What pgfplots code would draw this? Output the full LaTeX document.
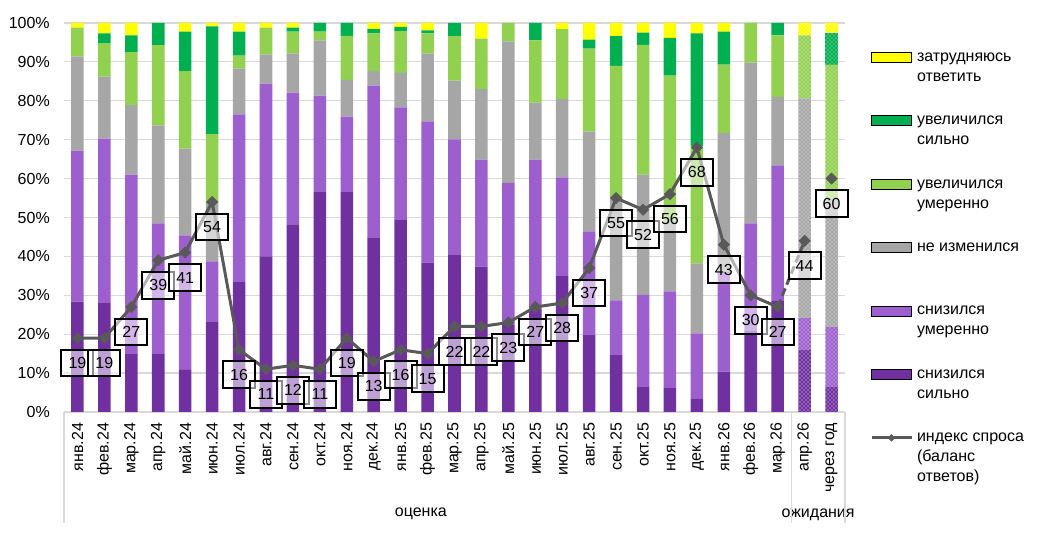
\documentclass[border=0pt]{standalone}
\usepackage{fontspec}
\setmainfont{Liberation Sans}
\usepackage{pgfplots}
\pgfplotsset{compat=1.18}
\usepackage{pgfplotstable}
\usetikzlibrary{patterns}
\definecolor{cSD}{HTML}{7030A0}
\definecolor{cSM}{HTML}{9D5FCE}
\definecolor{cNC}{HTML}{A6A6A6}
\definecolor{cIM}{HTML}{92D050}
\definecolor{cIS}{HTML}{00B050}
\definecolor{cDK}{HTML}{FFFF00}
\definecolor{cIdx}{HTML}{595959}
\definecolor{cGrid}{HTML}{D9D9D9}

\pgfplotstableread{
x sd sm nc im is dk
0 28.4 38.8 24.2 7.4 0 1.2
1 28.2 42.1 15.9 8.6 2.5 2.7
2 14.9 46.1 17.9 13.6 4.3 3.2
3 15.1 33.4 25.2 20.6 5.7 0
4 10.8 34.6 22.3 19.9 10.2 2.2
5 23.3 15.4 15.5 17.2 27.7 0.9
6 33.6 42.9 11.8 3.3 6.2 2.2
7 40.0 44.4 7.5 6.9 0 1.2
8 48.2 33.9 10.1 5.6 1.0 1.2
9 56.5 24.8 14.2 2.3 2.2 0
10 56.5 19.4 9.5 11.3 3.3 0
11 44.9 39.0 3.7 9.7 1.2 1.5
12 49.5 28.8 8.9 10.7 1.1 1.0
13 38.4 36.3 17.5 5.1 0.8 1.9
14 40.5 29.6 15.1 11.4 3.4 0
15 37.4 27.5 18.1 13.0 0 4.0
16 22.4 36.5 36.4 4.7 0 0
17 26.5 38.4 14.6 16.0 4.5 0
18 35.1 25.2 20.1 18.0 0 1.6
19 19.9 26.5 25.7 21.3 2.3 4.3
20 14.6 14.1 26.3 34.0 7.6 3.4
21 6.6 23.5 30.9 33.4 3.1 2.5
22 6.3 24.7 18.0 37.5 9.7 3.8
23 3.5 16.7 18.0 30.1 29.0 2.7
24 10.4 25.6 35.7 17.6 8.5 2.2
25 21.0 27.5 41.3 10.2 0 0
26 28.5 34.9 17.6 15.8 3.2 0
27 16.1 8.0 56.5 16.2 0 3.2
28 6.4 15.4 33.2 34.3 8.2 2.5
}\data

\newcommand{\legtext}[1]{\parbox[t][40pt][t]{125pt}{\raggedright\fontsize{12pt}{15pt}\selectfont\strut #1}}

\tikzset{
  lbl/.style={anchor=center, yshift=-18.75pt, draw=black, line width=1.5pt, fill=white, fill opacity=0.55, text opacity=1, text=black, minimum width=24pt, minimum height=20pt, inner sep=0pt, font=\fontsize{12pt}{14.4pt}\selectfont},
}
\pgfplotsset{
  legpatch/.style={legend image code/.code={\fill[##1] (0pt,-0.65pt) rectangle (30pt,6.85pt);}},
  legline/.style={legend image code/.code={\draw[mark repeat=2,mark phase=2,##1] plot coordinates {(0pt,3.1pt) (15pt,3.1pt) (30pt,3.1pt)};}},
  geom/.style={at={(48pt,91.5pt)}, anchor=south west, scale only axis, width=585.75pt, height=291.75pt, xmin=-0.5, xmax=28.5, ymin=0, ymax=100, clip=false},
}

\begin{document}
\begin{tikzpicture}
\path[use as bounding box] (0,0) rectangle (780.75pt,400.5pt);
\begin{axis}[geom,
  ybar stacked, bar width=9.4pt,
  ymajorgrids, grid style={cGrid, line width=0.9pt},
  axis line style={draw=none},
  major tick length=0pt,
  ytick={0,10,...,100},
  yticklabels={0\%,10\%,20\%,30\%,40\%,50\%,60\%,70\%,80\%,90\%,100\%},
  xtick={0,1,...,28},
  xticklabels={янв.24,фев.24,мар.24,апр.24,май.24,июн.24,июл.24,авг.24,сен.24,окт.24,ноя.24,дек.24,янв.25,фев.25,мар.25,апр.25,май.25,июн.25,июл.25,авг.25,сен.25,окт.25,ноя.25,дек.25,янв.26,фев.26,мар.26,апр.26,через год},
  tick label style={font=\fontsize{12pt}{14.4pt}\selectfont, text=black},
  xticklabel style={rotate=90, anchor=east, inner sep=0pt},
  xticklabel shift=8pt,
  yticklabel style={anchor=east, inner sep=0pt},
  yticklabel shift=10.5pt,
]
\addplot[fill=cSD, draw=none] table[x=x, y expr={(\thisrow{x}>26.5) ? 0 : \thisrow{sd}}]{\data};
\addplot[fill=cSD, draw=none, postaction={pattern=crosshatch dots, pattern color=white}] table[x=x, y expr={(\thisrow{x}>26.5) ? \thisrow{sd} : 0}]{\data};
\addplot[fill=cSM, draw=none] table[x=x, y expr={(\thisrow{x}>26.5) ? 0 : \thisrow{sm}}]{\data};
\addplot[fill=cSM, draw=none, postaction={pattern=crosshatch dots, pattern color=white}] table[x=x, y expr={(\thisrow{x}>26.5) ? \thisrow{sm} : 0}]{\data};
\addplot[fill=cNC, draw=none] table[x=x, y expr={(\thisrow{x}>26.5) ? 0 : \thisrow{nc}}]{\data};
\addplot[fill=cNC, draw=none, postaction={pattern=crosshatch dots, pattern color=white}] table[x=x, y expr={(\thisrow{x}>26.5) ? \thisrow{nc} : 0}]{\data};
\addplot[fill=cIM, draw=none] table[x=x, y expr={(\thisrow{x}>26.5) ? 0 : \thisrow{im}}]{\data};
\addplot[fill=cIM, draw=none, postaction={pattern=crosshatch dots, pattern color=white}] table[x=x, y expr={(\thisrow{x}>26.5) ? \thisrow{im} : 0}]{\data};
\addplot[fill=cIS, draw=none] table[x=x, y expr={(\thisrow{x}>26.5) ? 0 : \thisrow{is}}]{\data};
\addplot[fill=cIS, draw=none, postaction={pattern=crosshatch dots, pattern color=white}] table[x=x, y expr={(\thisrow{x}>26.5) ? \thisrow{is} : 0}]{\data};
\addplot[fill=cDK, draw=none] table[x=x, y expr={(\thisrow{x}>26.5) ? 0 : \thisrow{dk}}]{\data};
\addplot[fill=cDK, draw=none, postaction={pattern=crosshatch dots, pattern color=white}] table[x=x, y expr={(\thisrow{x}>26.5) ? \thisrow{dk} : 0}]{\data};
\draw[cGrid, line width=0.8pt] (axis cs:-0.5,0) -- ++(0pt,-83.25pt);
\draw[cGrid, line width=0.8pt] (axis cs:26.5,0) -- ++(0pt,-83.25pt);
\draw[cGrid, line width=0.8pt] (axis cs:28.5,0) -- ++(0pt,-83.25pt);
\node[font=\fontsize{12pt}{14.4pt}\selectfont, yshift=-76pt] at (axis cs:12.75,0) {оценка};
\node[font=\fontsize{12pt}{14.4pt}\selectfont, yshift=-77pt] at (axis cs:27.5,0) {ожидания};
\end{axis}

\begin{axis}[geom, hide axis,
  legend style={at={(1.032,0.938)}, anchor=north west, draw=none, fill=none, inner sep=0pt, outer sep=0pt, row sep=7.6pt, column sep=3pt, cells={anchor=base west}, nodes={inner sep=0pt, text depth=}},
]
\addlegendimage{legpatch, fill=cDK}\addlegendentry{\legtext{затрудняюсь\\ответить}}
\addlegendimage{legpatch, fill=cIS}\addlegendentry{\legtext{увеличился\\сильно}}
\addlegendimage{legpatch, fill=cIM}\addlegendentry{\legtext{увеличился\\умеренно}}
\addlegendimage{legpatch, fill=cNC}\addlegendentry{\legtext{не изменился}}
\addlegendimage{legpatch, fill=cSM}\addlegendentry{\legtext{снизился\\умеренно}}
\addlegendimage{legpatch, fill=cSD}\addlegendentry{\legtext{снизился\\сильно}}
\addlegendimage{legline, cIdx, line width=2.25pt, mark=square*, mark size=1.8pt, mark options={rotate=45, line width=0.4pt}}\addlegendentry{\legtext{индекс спроса\\(баланс\\ответов)}}

\addplot[cIdx, line width=2.25pt, dash pattern=on 6pt off 3pt, forget plot] coordinates {(26,27) (27,44)};
\addplot[cIdx, line width=2.25pt, mark=square*, mark size=3pt, mark options={rotate=45, solid, line width=0.4pt}, nodes near coords, point meta=explicit symbolic, every node near coord/.append style={lbl}, forget plot] coordinates {
(0,19)[19] (1,19)[19] (2,27)[27] (3,39)[39] (4,41)[41] (5,54)[54] (6,16)[16] (7,11)[11] (8,12)[12] (9,11)[11]
(10,19)[19] (11,13)[13] (12,16)[16] (13,15)[15] (14,22)[22] (15,22)[22] (16,23)[23] (17,27)[27] (18,28)[28] (19,37)[37]
(20,55)[55] (21,52)[52] (22,56)[56] (23,68)[68] (24,43)[43] (25,30)[30] (26,27)[27]};
\addplot[cIdx, only marks, mark=square*, mark size=3pt, mark options={rotate=45, solid, line width=0.4pt}, nodes near coords, point meta=explicit symbolic, every node near coord/.append style={lbl}, forget plot] coordinates {(27,44)[44] (28,60)[60]};
\end{axis}
\end{tikzpicture}
\end{document}
